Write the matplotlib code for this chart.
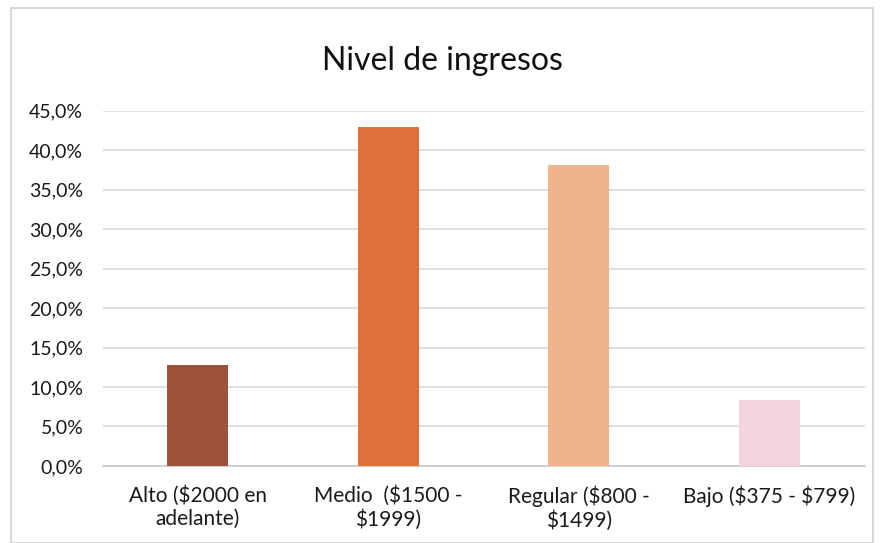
import matplotlib.pyplot as plt
from matplotlib.ticker import FuncFormatter, MultipleLocator
from matplotlib.patches import Rectangle

plt.rcParams['font.family'] = ['Lato', 'DejaVu Sans']
plt.rcParams['text.parse_math'] = False

# Income level distribution
categorias = ['Alto ($2000 en\nadelante)', 'Medio  ($1500 -\n$1999)',
              'Regular ($800 -\n$1499)', 'Bajo ($375 - $799)']
porcentajes = [0.128, 0.430, 0.381, 0.083]
colores = ['#9d523b', '#e2703a', '#efb38e', '#f3d3dd']

fig = plt.figure(figsize=(8.85, 5.43), dpi=100)
ax = fig.add_axes([0.116, 0.142, 0.861, 0.654])

x = range(len(categorias))
ax.bar(x, porcentajes, width=0.32, color=colores, zorder=3)

ax.set_ylim(0, 0.45)
ax.set_xlim(-0.5, len(categorias) - 0.5)
ax.yaxis.set_major_locator(MultipleLocator(0.05))
ax.yaxis.set_major_formatter(
    FuncFormatter(lambda v, _: f'{v * 100:.1f}%'.replace('.', ',')))
ax.grid(axis='y', color='#d9d9dc', linewidth=1.2, zorder=0)
ax.set_xticks(list(x))
ax.set_xticklabels(categorias, fontsize=15, color='#1a1a1a', va='top',
                   linespacing=1.2)
ax.tick_params(axis='y', labelsize=14, labelcolor='#1a1a1a')
ax.tick_params(axis='both', length=0)
ax.tick_params(axis='x', pad=14)
ax.tick_params(axis='y', pad=14)

for side in ['left', 'right', 'top']:
    ax.spines[side].set_visible(False)
ax.spines['bottom'].set_color('#c8c8cc')
ax.spines['bottom'].set_linewidth(1.2)

fig.suptitle('Nivel de ingresos', fontsize=23, color='#111111', y=0.915)

# outer chart frame
fig.patches.append(Rectangle((0.012, 0.0), 0.975, 0.985, transform=fig.transFigure,
                             fill=False, edgecolor='#d0d0d8', linewidth=1.2))

fig.savefig('out.png', dpi=100, facecolor='white')
